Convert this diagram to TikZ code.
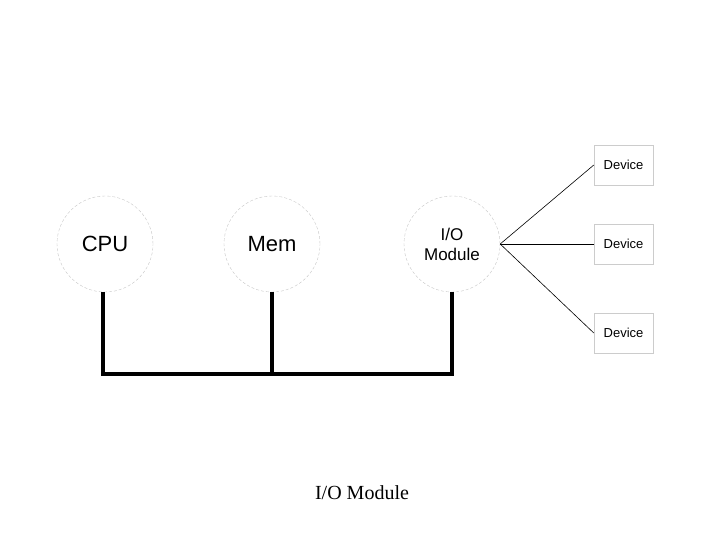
\documentclass[tikz,border=0pt]{standalone}
\usepackage{fontspec}
\setmainfont{Liberation Serif}
\newfontfamily\sansf{Liberation Sans}
\begin{document}
\begin{tikzpicture}[x=1pt,y=-1pt,
  unit/.style={circle,draw=gray!45,densely dashed,minimum size=96pt,inner sep=0pt,font=\sansf\fontsize{22}{24}\selectfont,align=center},
  dev/.style={draw=gray!40,minimum width=59pt,minimum height=40pt,inner sep=0pt,font=\sansf\fontsize{13}{15}\selectfont},
  bus/.style={line width=4pt},
  wire/.style={line width=0.6pt}]
\useasboundingbox (0,0) rectangle (720,540);
\node[unit] (cpu) at (105,244) {CPU};
\node[unit] (mem) at (272,244) {Mem};
\node[unit,font=\sansf\fontsize{17}{20}\selectfont] (io) at (452,244) {I/O\\Module};
\node[dev] (d1) at (623.5,165) {Device};
\node[dev] (d2) at (623.5,244) {Device};
\node[dev] (d3) at (623.5,333) {Device};
\coordinate (b1) at (103,374);
\coordinate (b2) at (272,374);
\coordinate (b3) at (452,374);
\draw[bus] (cpu.south -| b1) -- (b1) -- (b3) -- (io.south);
\draw[bus] (mem.south) -- (b2);
\draw[wire] (io.east) -- (d1.west);
\draw[wire] (io.east) -- (d2.west);
\draw[wire] (io.east) -- (d3.west);
\node[font=\fontsize{20}{24}\selectfont] (cap) at (362,493) {I/O Module};
\end{tikzpicture}
\end{document}
